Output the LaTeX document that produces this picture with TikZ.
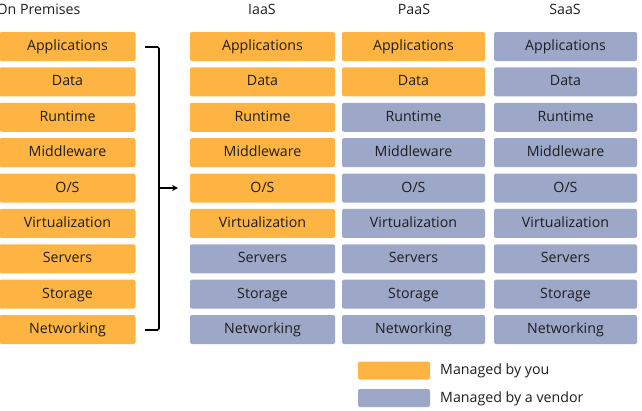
\documentclass[tikz,border=0pt]{standalone}
\usepackage{fontspec}
\setmainfont{Open Sans}
\usetikzlibrary{arrows.meta}
\definecolor{you}{RGB}{253,180,66}
\definecolor{vendor}{RGB}{157,168,200}
\definecolor{txt}{RGB}{30,30,30}
\tikzset{
  cell/.style={minimum height=29pt, rounded corners=2pt, inner sep=0pt, text=txt,
    text height=10.5pt, text depth=2.5pt, font=\fontsize{14.2}{16}\selectfont},
  youcell/.style={cell, fill=you},
  vendcell/.style={cell, fill=vendor},
  title/.style={text=txt, text height=10.5pt, text depth=2.5pt, font=\fontsize{14.2}{16}\selectfont},
  bracket/.style={line width=1.6pt, black},
}
\begin{document}
\begin{tikzpicture}[x=1pt,y=-1pt]
\useasboundingbox (0,0) rectangle (642,410);
\def\rows{Applications,Data,Runtime,Middleware,O/S,Virtualization,Servers,Storage,Networking}
\node[title] (tOP) at (38.5,10) {On Premises};
\node[title] (tI) at (262,10) {IaaS};
\node[title] (tP) at (414,10) {PaaS};
\node[title] (tS) at (565,10) {SaaS};
\foreach \t [count=\i] in \rows {
  \pgfmathsetmacro{\yy}{46.5+(\i-1)*35.375}
  \node[youcell, minimum width=136pt] (op\i) at (67.5,\yy) {\t};
  \ifnum\i<7
    \node[youcell, minimum width=145pt] (ia\i) at (262.5,\yy) {\t};
  \else
    \node[vendcell, minimum width=145pt] (ia\i) at (262.5,\yy) {\t};
  \fi
  \ifnum\i<3
    \node[youcell, minimum width=143pt] (pa\i) at (413.5,\yy) {\t};
  \else
    \node[vendcell, minimum width=143pt] (pa\i) at (413.5,\yy) {\t};
  \fi
  \node[vendcell, minimum width=143pt] (sa\i) at (565.5,\yy) {\t};
}
% bracket
\coordinate (bt) at (145,47);
\coordinate (btc) at (159,47);
\coordinate (bbc) at (159,330);
\coordinate (bb) at (145,330);
\coordinate (bm) at (159,188);
\coordinate (ba) at (178,188);
\draw[bracket, rounded corners=1.5pt] (bt) -- (btc) -- (bbc) -- (bb);
\draw[bracket, -{Stealth[length=6pt,width=6pt]}] (bm) -- (ba);
% legend
\node[cell, fill=you, minimum width=72pt, minimum height=18pt] (lyou) at (394,370.5) {};
\node[cell, fill=vendor, minimum width=72pt, minimum height=18pt] (lven) at (394,398) {};
\node[title, anchor=west, inner sep=0pt] (lyt) at (440,370.5) {Managed by you};
\node[title, anchor=west, inner sep=0pt] (lvt) at (440,398) {Managed by a vendor};
\end{tikzpicture}
\end{document}
